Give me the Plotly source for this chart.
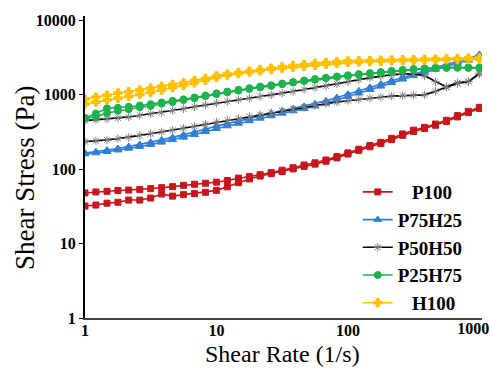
import plotly.graph_objects as go

shear_rate = [1.00, 1.21, 1.47, 1.78, 2.15, 2.61, 3.16, 3.83, 4.64, 5.62, 6.81, 8.25,
              10.0, 12.1, 14.7, 17.8, 21.5, 26.1, 31.6, 38.3, 46.4, 56.2, 68.1, 82.5,
              100, 121, 147, 178, 215, 261, 316, 383, 464, 562, 681, 825, 1000]

p100_a = [48, 49.5, 50.5, 51.8, 52.5, 53.5, 54.8, 56.5, 58.3, 60.8, 62.8, 64.8,
          67, 70.5, 76, 80, 84.5, 90, 97, 105, 114, 122, 133, 148,
          166, 186, 208, 230, 260, 298, 335, 365, 405, 455, 525, 600, 680]
p100_b = [32, 33, 35, 36, 38.5, 38.5, 41, 46.5, 43.5, 45.5, 47, 49,
          52, 58, 66, 74, 81, 87, 93, 101, 109, 117, 128, 142,
          160, 179, 200, 221, 250, 286, 322, 352, 390, 437, 505, 577, 655]

p75h25_a = [165, 172, 180, 190, 202, 215, 230, 248, 268, 290, 315, 345,
            380, 410, 445, 480, 520, 560, 605, 650, 700, 760, 830, 920,
            1020, 1130, 1260, 1400, 1560, 1740, 1930, 2130, 2350, 2580, 2800, 3050, 3500]
p75h25_b = [160, 165, 172, 180, 190, 201, 214, 230, 248, 268, 290, 318,
            350, 380, 412, 445, 482, 520, 562, 605, 650, 705, 770, 850,
            945, 1050, 1170, 1300, 1450, 1620, 1800, 2000, 2200, 2420, 2650, 2900, 3250]

p50h50_a = [450, 460, 475, 490, 505, 530, 555, 580, 615, 650, 690, 730,
            775, 820, 860, 900, 950, 1000, 1050, 1110, 1180, 1250, 1320, 1400,
            1500, 1600, 1700, 1800, 1870, 1900, 1930, 1800, 1500, 1280, 1420, 1500, 1950]
p50h50_b = [235, 240, 248, 258, 268, 285, 300, 318, 335, 355, 378, 405,
            430, 455, 480, 510, 540, 575, 610, 645, 680, 715, 760, 800,
            835, 870, 900, 930, 960, 980, 990, 1000, 1120, 1260, 1450, 1520, 1900]

p25h75_a = [490, 560, 660, 670, 690, 720, 750, 790, 830, 870, 920, 980,
            1050, 1110, 1170, 1230, 1290, 1350, 1420, 1490, 1560, 1630, 1700, 1770,
            1830, 1900, 1960, 2030, 2100, 2170, 2230, 2280, 2320, 2350, 2350, 2340, 2330]
p25h75_b = [480, 510, 570, 610, 640, 680, 710, 760, 800, 850, 900, 960,
            1020, 1080, 1140, 1200, 1260, 1320, 1390, 1460, 1530, 1600, 1670, 1740,
            1800, 1860, 1920, 1990, 2060, 2120, 2180, 2230, 2270, 2300, 2310, 2300, 2290]

h100_a = [880, 930, 990, 1060, 1100, 1160, 1230, 1300, 1380, 1460, 1560, 1660,
          1800, 1900, 1990, 2080, 2180, 2280, 2380, 2480, 2560, 2650, 2720, 2800,
          2860, 2880, 2900, 2920, 2940, 2960, 2990, 3010, 3030, 3060, 3090, 3120, 3150]
h100_b = [760, 800, 850, 900, 950, 1010, 1080, 1160, 1250, 1340, 1450, 1570,
          1720, 1840, 1930, 2020, 2110, 2200, 2280, 2360, 2430, 2500, 2570, 2640,
          2720, 2770, 2810, 2840, 2870, 2890, 2910, 2930, 2950, 2970, 2980, 2990, 3000]

x_tick_vals = [1, 10, 100]
x_tick_text = ["1", "10", "100"]
x_last_tick_val = [1000]
x_last_tick_text = ["1000"]
y_tick_vals = [1, 10, 100, 1000, 10000]
y_tick_text = ["1", "10", "100", "1000", "10000"]

NB = "\u00a0"
series = [
    ("P100", NB * 3 + "P100", p100_a, p100_b, "#C8161D", "#C8161D", "square", 6),
    ("P75H25", "P75H25", p75h25_a, p75h25_b, "#2F7FD6", "#2F7FD6", "triangle-up", 7),
    ("P50H50", "P50H50", p50h50_a, p50h50_b, "#000000", "#808080", "asterisk-open", 7),
    ("P25H75", "P25H75", p25h75_a, p25h75_b, "#1DB24E", "#1DB24E", "circle", 7),
    ("H100", NB * 3 + "H100", h100_a, h100_b, "#FFC000", "#FFC000", "cross", 7),
]

fig = go.Figure()
for key, label, ya, yb, lcol, mcol, sym, msz in series:
    for i, yy in enumerate((ya, yb)):
        fig.add_trace(go.Scatter(
            x=shear_rate, y=yy, mode="lines+markers", name=label,
            legendgroup=key, showlegend=(i == 0),
            line=dict(color=lcol, width=1.6),
            marker=dict(symbol=sym, size=msz, color=mcol,
                        line=dict(color=mcol, width=1)),
        ))

# empty helper trace so the overlay axis carrying the last tick label is drawn
fig.add_trace(go.Scatter(x=[], y=[], xaxis="x2", yaxis="y", mode="markers",
                         showlegend=False, hoverinfo="skip"))

serif = "Liberation Serif, Times New Roman, serif"
tick_font = dict(family=serif, size=16, color="black", weight="bold")
fig.update_layout(
    width=490, height=369,
    margin=dict(l=85, r=8, t=16, b=51, autoexpand=False),
    paper_bgcolor="white", plot_bgcolor="white",
    showlegend=True,
    legend=dict(x=0.687, y=0.48, xanchor="left", yanchor="top",
                font=dict(family=serif, size=19, color="black", weight="bold"),
                tracegroupgap=0, bgcolor="rgba(0,0,0,0)"),
    xaxis=dict(type="log", range=[0, 3.02], tickvals=x_tick_vals, ticktext=x_tick_text,
               showgrid=False, zeroline=False, showline=True, linecolor="#444444",
               linewidth=2, ticks="", automargin=False, ticklabelstandoff=-3,
               tickfont=tick_font),
    xaxis2=dict(type="log", range=[0, 3.02], overlaying="x", anchor="y", side="bottom",
                tickvals=x_last_tick_val, ticktext=x_last_tick_text,
                showgrid=False, zeroline=False, showline=False, ticks="",
                automargin=False, ticklabelstandoff=-1, ticklabelshift=-6,
                ticklabeloverflow="allow", tickfont=tick_font),
    yaxis=dict(type="log", range=[0, 4.06], tickvals=y_tick_vals, ticktext=y_tick_text,
               showgrid=False, zeroline=False, showline=True, linecolor="black",
               linewidth=2, ticks="outside", ticklen=4, tickcolor="black", automargin=False,
               tickfont=tick_font),
    annotations=[
        dict(text="Shear Stress (Pa)", xref="paper", yref="paper", x=-0.1527, y=0.465,
             xanchor="center", yanchor="middle", textangle=-90, showarrow=False,
             font=dict(family=serif, size=27, color="black")),
        dict(text="Shear Rate (1/s)", xref="paper", yref="paper", x=0.497, y=-0.12,
             xanchor="center", yanchor="middle", showarrow=False,
             font=dict(family=serif, size=24, color="black")),
    ],
)

fig.write_html("out.html")
